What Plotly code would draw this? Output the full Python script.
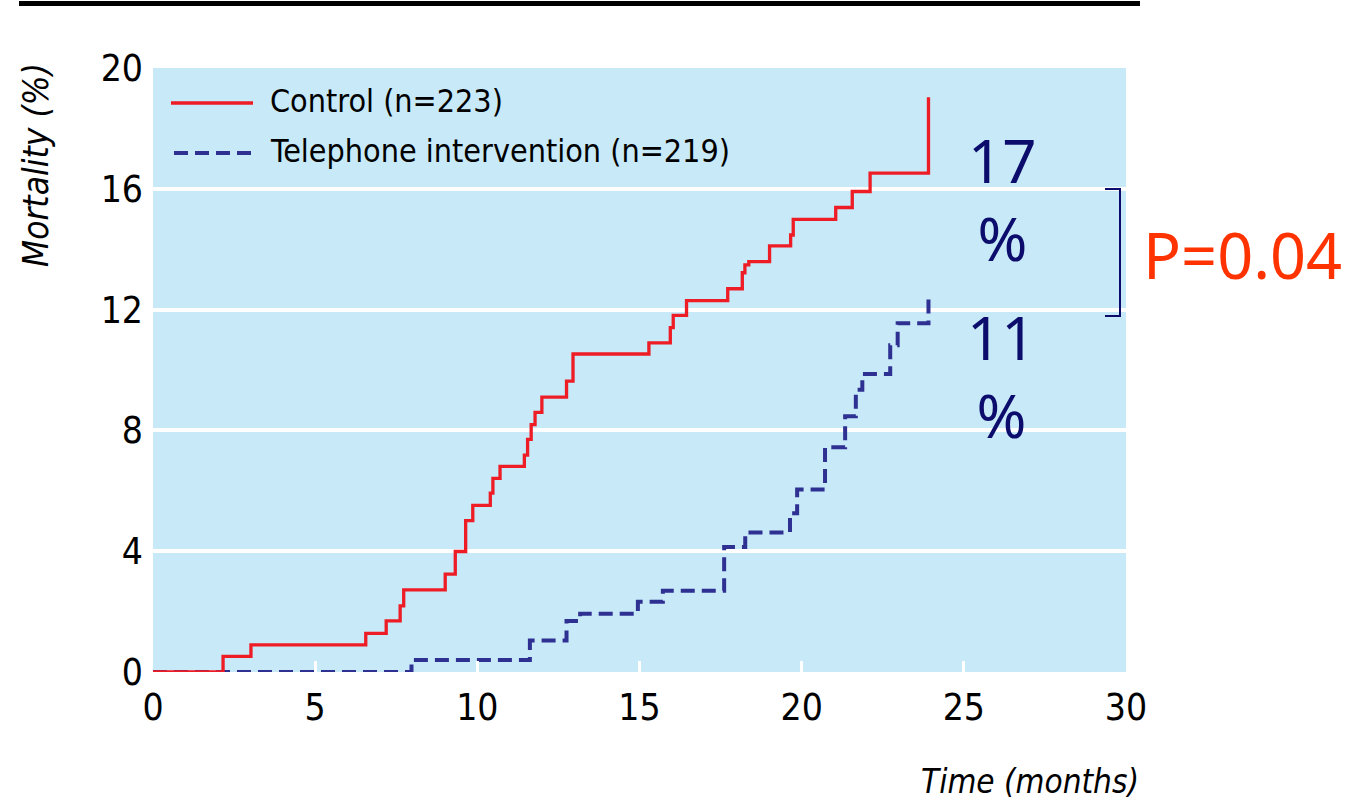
import plotly.graph_objects as go

# ---- data ----
control_time = [0, 2.16, 3.02, 6.56, 7.19, 7.62, 7.73, 9.01, 9.32, 9.64, 9.86, 10.40, 10.48,
                10.70, 11.45, 11.55, 11.66, 11.78, 11.99, 12.75, 12.95, 15.29, 15.95, 16.04,
                16.45, 17.72, 18.17, 18.25, 18.37, 19.01, 19.66, 19.74, 21.05, 21.56, 22.11,
                23.91]
control_mort = [0, 0.52, 0.90, 1.28, 1.69, 2.19, 2.72, 3.24, 3.99, 5.01, 5.52, 5.92, 6.41,
                6.81, 7.18, 7.70, 8.19, 8.60, 9.10, 9.63, 10.53, 10.90, 11.40, 11.81,
                12.30, 12.69, 13.22, 13.48, 13.59, 14.11, 14.47, 14.99, 15.38, 15.91, 16.52,
                19.03]

phone_time = [0, 7.97, 11.62, 12.75, 13.17, 14.95, 15.72, 17.61, 18.26, 19.64, 19.86, 20.72,
              21.34, 21.67, 21.87, 22.73, 22.96, 23.91]
phone_mort = [0, 0.40, 1.04, 1.69, 1.93, 2.33, 2.69, 4.14, 4.62, 5.26, 6.04, 7.44,
              8.47, 9.35, 9.87, 10.82, 11.55, 12.50]

x_ticks = [0, 5, 10, 15, 20, 25, 30]
y_ticks = [0, 4, 8, 12, 16, 20]

legend_labels = ["Control (n=223)", "Telephone intervention (n=219)"]
control_pct_label = ["17", "%"]
phone_pct_label = ["11", "%"]
p_value_label = "P=0.04"

# ---- styling ----
RED = "#ee1c25"
BLUE = "#2e3192"
NAVY = "#0c0c6c"
BG = "#c7e9f8"
NARROW = "DejaVu Sans Condensed, Liberation Sans Narrow, sans-serif"
SANS = "Noto Sans, Open Sans, sans-serif"

W, H = 1364, 805
L, R, T, B = 153, 1364 - 1126, 68, 805 - 672
PW, PH = W - L - R, H - T - B


def px(xp):
    return (xp - L) / PW


def py(yp):
    return (H - B - yp) / PH


fig = go.Figure()
fig.add_trace(go.Scatter(x=phone_time, y=phone_mort, mode="lines", line_shape="hv",
                         line=dict(color=BLUE, width=4, dash="14px,7px"),
                         name=legend_labels[1], showlegend=False))
fig.add_trace(go.Scatter(x=control_time, y=control_mort, mode="lines", line_shape="hv",
                         line=dict(color=RED, width=3.3),
                         name=legend_labels[0], showlegend=False))

shapes = [
    # top rule
    dict(type="line", xref="paper", yref="paper", x0=px(19), x1=px(1140), y0=py(3.5), y1=py(3.5),
         line=dict(color="black", width=5)),
    # legend samples
    dict(type="line", xref="paper", yref="paper", x0=px(171), x1=px(253), y0=py(103), y1=py(103),
         line=dict(color=RED, width=3.3)),
    dict(type="line", xref="paper", yref="paper", x0=px(174), x1=px(253), y0=py(153), y1=py(153),
         line=dict(color=BLUE, width=4, dash="14px,7px")),
    # bracket
    dict(type="path", xref="paper", yref="paper",
         path=f"M{px(1105)},{py(189)} L{px(1120)},{py(189)} L{px(1120)},{py(316)} L{px(1105)},{py(316)}",
         line=dict(color=NAVY, width=2)),
]

annotations = [
    dict(text=legend_labels[0], xref="paper", yref="paper", x=px(268), y=py(101),
         xanchor="left", yanchor="middle", showarrow=False,
         font=dict(family=NARROW, size=32, color="black")),
    dict(text=legend_labels[1], xref="paper", yref="paper", x=px(268), y=py(151),
         xanchor="left", yanchor="middle", showarrow=False,
         font=dict(family=NARROW, size=32, color="black")),
    dict(text="<i>Mortality (%)</i>", xref="paper", yref="paper", x=px(36), y=py(165),
         xanchor="center", yanchor="middle", textangle=-90, showarrow=False,
         font=dict(family=NARROW, size=35, color="black")),
    dict(text="<i>Time (months)</i>", xref="paper", yref="paper", x=px(1141), y=py(781),
         xanchor="right", yanchor="middle", showarrow=False,
         font=dict(family=NARROW, size=33, color="black")),
    dict(text="<br>".join(control_pct_label), xref="paper", yref="paper", x=px(1002), y=py(199),
         xanchor="center", yanchor="middle", align="center", showarrow=False,
         font=dict(family=SANS, size=60, color=NAVY)),
    dict(text="<br>".join(phone_pct_label), xref="paper", yref="paper", x=px(1001), y=py(376),
         xanchor="center", yanchor="middle", align="center", showarrow=False,
         font=dict(family=SANS, size=60, color=NAVY)),
    dict(text=p_value_label, xref="paper", yref="paper", x=px(1141), y=py(255),
         xanchor="left", yanchor="middle", showarrow=False,
         font=dict(family=SANS, size=63, color="#ff3300")),
]

fig.update_layout(
    width=W, height=H,
    margin=dict(l=L, r=R, t=T, b=B, pad=0),
    paper_bgcolor="white", plot_bgcolor=BG,
    showlegend=False,
    shapes=shapes, annotations=annotations,
    xaxis=dict(range=[0, 30], tickvals=x_ticks, ticktext=[str(v) for v in x_ticks],
               showgrid=False, zeroline=False, showline=False,
               ticks="inside", ticklen=11, tickwidth=3, tickcolor="white",
               ticklabelstandoff=10,
               tickfont=dict(family=NARROW, size=37, color="black")),
    yaxis=dict(range=[0, 20], tickvals=y_ticks, ticktext=[str(v) for v in y_ticks],
               showgrid=True, gridcolor="white", gridwidth=4, zeroline=False, showline=False,
               ticks="", ticklabelstandoff=9,
               tickfont=dict(family=NARROW, size=37, color="black")),
)

fig.write_html("out.html", config={"displayModeBar": False},
               post_script="document.body.style.margin='0';")
